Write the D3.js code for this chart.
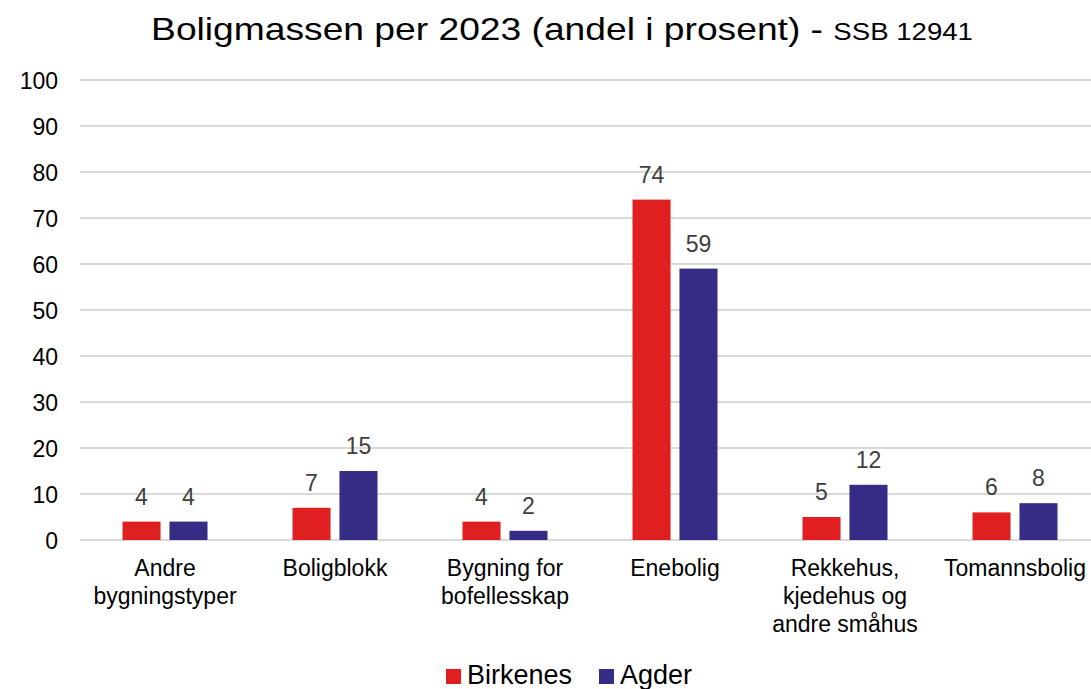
<!DOCTYPE html>
<html><head><meta charset="utf-8">
<script src="https://cdn.jsdelivr.net/npm/d3@7"></script>
<style>body{margin:0;background:#fff}svg{display:block}text{font-family:"Liberation Sans",Arial,sans-serif}</style>
</head><body>
<svg id="c" width="1091" height="689"></svg>
<script>
const categories = [["Andre","bygningstyper"],["Boligblokk"],["Bygning for","bofellesskap"],["Enebolig"],["Rekkehus,","kjedehus og","andre småhus"],["Tomannsbolig"]];
const seriesNames = ["Birkenes","Agder"];
const birkenes = [4,7,4,74,5,6];
const agder = [4,15,2,59,12,8];
const yTicks = [0,10,20,30,40,50,60,70,80,90,100];
const colors = ["#E02020","#352C86"];

const svg = d3.select("#c");
const x0 = d3.scaleBand().domain(d3.range(categories.length)).range([80,1100]).paddingInner(0.5).paddingOuter(0.25);
const x1 = d3.scaleBand().domain([0,1]).range([0,x0.bandwidth()]).paddingInner(0.19);
const y = d3.scaleLinear().domain([0,100]).range([540,80]);

// title (horizontally widened like the reference)
const t = svg.append("text").attr("transform","translate(562,40) scale(1.2,1)").attr("text-anchor","middle").attr("fill","#000");
t.append("tspan").attr("font-size",31).text("Boligmassen per 2023 (andel i prosent) - ");
t.append("tspan").attr("font-size",23).text("SSB 12941");

// grid
svg.append("g").selectAll("line").data(yTicks).join("line")
  .attr("x1",80).attr("x2",1091).attr("y1",d=>y(d)).attr("y2",d=>y(d))
  .attr("stroke","#d9d9d9").attr("stroke-width",2);
const yAxis = d3.axisLeft(y).tickValues(yTicks).tickSize(0).tickPadding(0);
const ga = svg.append("g").attr("transform","translate(58,0)").call(yAxis);
ga.select(".domain").remove();
ga.selectAll("text").attr("font-size",23).attr("fill","#000").attr("dy","0.35em").style("font-family","Liberation Sans, Arial, sans-serif");

const data = [birkenes, agder];
const g = svg.append("g");
categories.forEach((c,i)=>{
  data.forEach((s,j)=>{
    const xx = x0(i)+x1(j);
    g.append("rect").attr("x",xx).attr("y",y(s[i])).attr("width",x1.bandwidth()).attr("height",y(0)-y(s[i])).attr("fill",colors[j]);
    g.append("text").attr("x",xx+x1.bandwidth()/2).attr("y",y(s[i])-17).attr("text-anchor","middle")
      .attr("font-size",23).attr("fill","#404040").text(s[i]);
  });
  const lt = g.append("text").attr("text-anchor","middle").attr("font-size",23).attr("fill","#000");
  c.forEach((line,k)=>{
    lt.append("tspan").attr("x",x0(i)+x0.bandwidth()/2).attr("y",576+k*28).text(line);
  });
});

// legend
const lg = svg.append("g");
const legX = [446,599];
seriesNames.forEach((n,j)=>{
  lg.append("rect").attr("x",legX[j]).attr("y",669).attr("width",15).attr("height",15).attr("fill",colors[j]);
  lg.append("text").attr("x",legX[j]+21).attr("y",684).attr("font-size",27).attr("fill","#000").text(n);
});
</script>
</body></html>
